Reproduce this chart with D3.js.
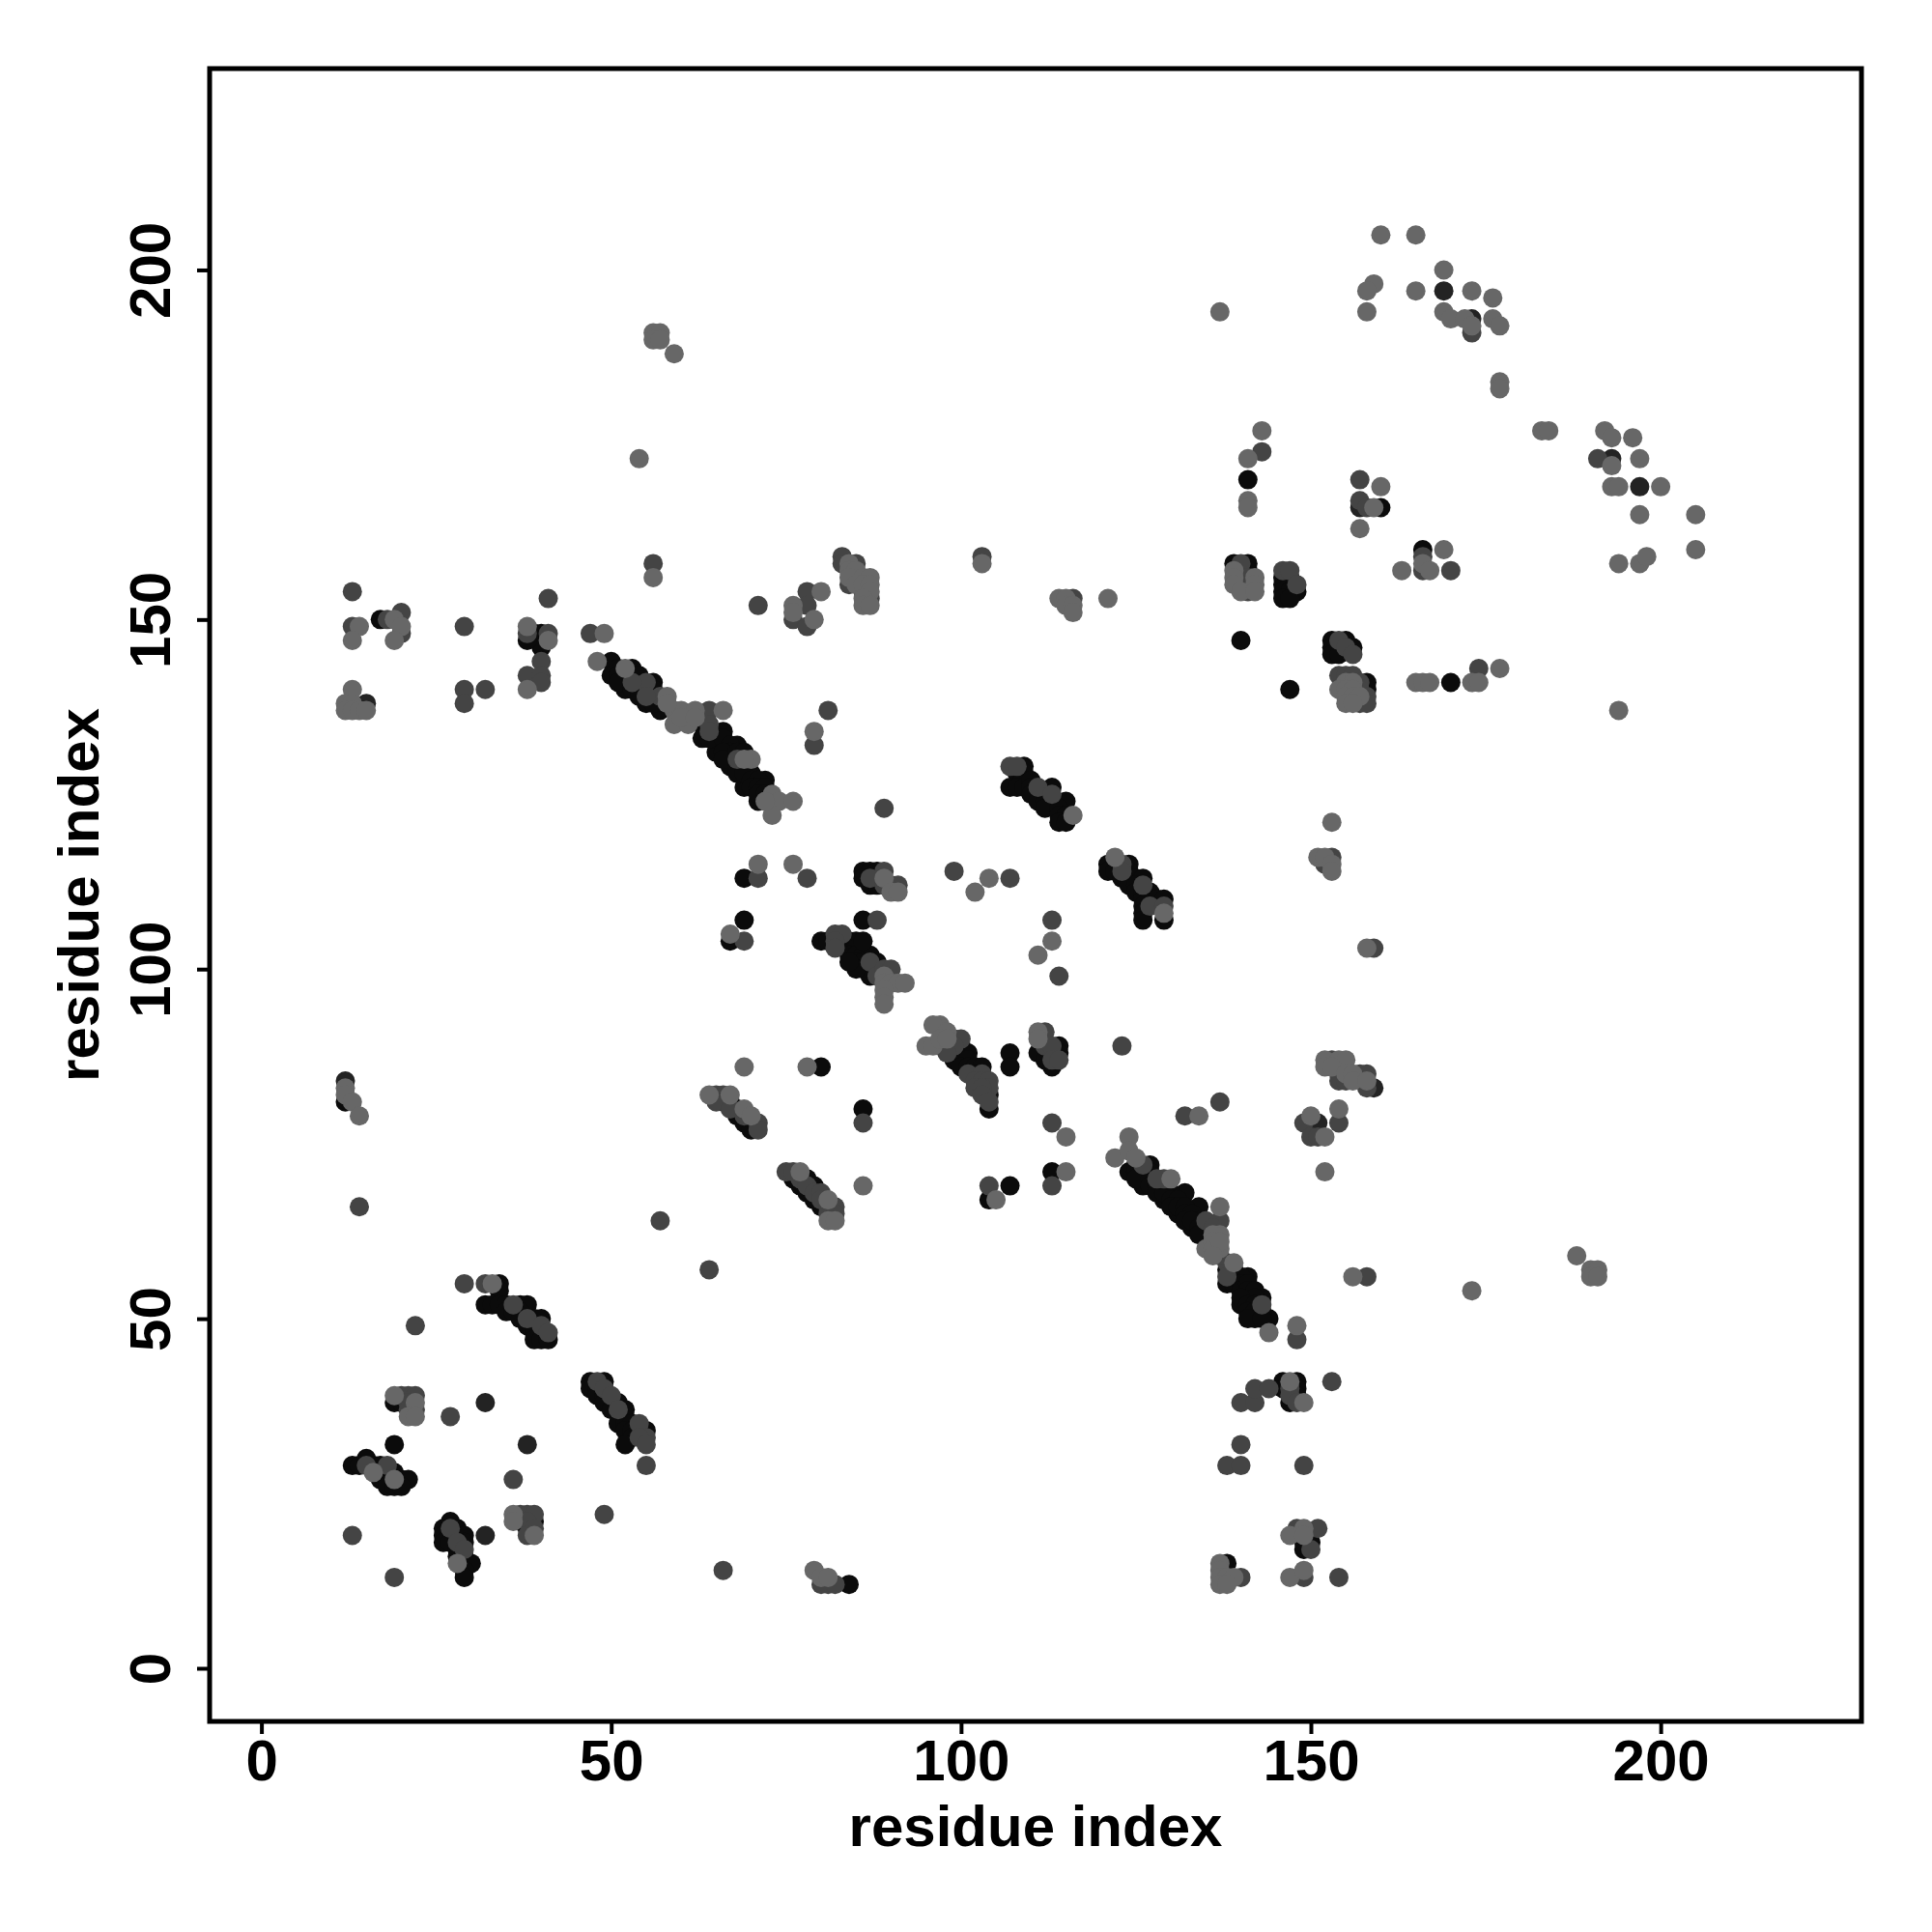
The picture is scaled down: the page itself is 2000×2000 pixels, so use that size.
<!DOCTYPE html>
<html><head><meta charset="utf-8">
<script src="https://cdn.jsdelivr.net/npm/d3@7"></script>
<style>body{margin:0;background:#fff}</style>
</head><body><svg id="chart" width="2000" height="2000"></svg>
<script>
const xTicks = [0, 50, 100, 150, 200];
const yTicks = [0, 50, 100, 150, 200];
const xTitle = "residue index";
const yTitle = "residue index";

// contacts [i, j], grouped by intensity level (0 = strongest / darkest)
const contactsLevel0 = [
[17,150],[39,148],[40,148],[40,146],[38,147],
[50,144],[50,142],[53,143],[52,140],[56,141],[55,138],[57,137],[63,135],[63,133],[66,134],[68,132],[65,131],[67,129],[69,126],[72,127],[71,124],[51,143],[51,142],[51,141],[53,142],[54,142],[54,140],[53,140],[54,139],[56,140],[56,138],[65,133],[64,133],[66,133],[67,132],[67,131],[66,131],[66,130],[68,131],[69,131],[68,129],[69,129],[70,128],[68,128],[69,128],[70,127],[71,127],[70,126],[71,126],[72,126],[71,125],[72,125],
[141,170],[140,147],[139,158],[141,158],[140,157],[141,157],[140,156],
[160,166],[166,160],[146,156],[147,156],[146,155],[147,155],[148,154],[146,154],[147,154],[146,153],[147,153],[153,147],[155,147],[153,146],[154,146],[156,146],[153,145],[154,145],[170,141],[158,141],[158,140],[147,140],
[69,113],[69,107],[67,104],[12,81],[66,81],[67,81],[68,80],[68,79],[70,78],[69,78],[70,77],
[109,129],[109,128],[108,128],[107,126],[108,126],[109,126],[110,127],[110,126],[110,125],[112,125],[113,126],[111,124],[112,124],[113,124],[115,124],[112,123],[114,123],[114,122],[115,122],[114,121],[115,121],
[121,115],[122,115],[124,115],[121,114],[122,114],[124,114],[125,113],[126,113],[123,113],[124,112],[125,112],[125,111],[126,111],[127,111],[126,110],[127,110],[128,110],[129,110],[126,109],[126,108],[126,107],[129,107],
[86,114],[87,114],[88,114],[86,113],[88,113],[87,112],[88,112],[86,107],
[80,104],[81,104],[83,104],[84,104],[84,103],[85,104],[85,103],[84,102],[85,102],[86,102],[87,102],[85,101],[86,101],[86,100],[87,100],[88,101],[88,100],[87,99],[86,104],[85,100],[84,101],
[100,89],[101,88],[99,88],[99,87],[100,87],[101,87],[100,86],[101,86],[102,86],[103,86],[102,85],[104,82],[104,80],
[107,88],[107,86],[111,88],[114,89],[114,88],[112,87],[113,86],[80,86],[86,80],
[34,55],[34,54],[32,52],[33,52],[34,52],[35,52],[37,52],[38,52],[35,51],[36,51],[37,51],[37,50],[39,50],[40,50],[38,49],[39,49],[39,48],[40,48],[39,47],[40,47],[41,47],
[19,38],[20,38],
[47,41],[49,41],[47,40],[48,40],[48,39],[49,39],[50,38],[51,38],[49,38],[50,37],[52,37],[52,36],[51,35],[52,35],[53,35],[52,34],[53,34],[55,34],[53,33],[52,32],
[19,32],
[13,29],[14,29],[15,30],[16,29],[17,29],[17,28],[18,28],[17,27],[18,27],[19,28],[20,27],[21,27],[18,26],[19,26],[20,26],
[37,21],[39,21],[38,20],
[27,21],[28,20],[26,20],[28,19],[29,19],[26,19],[27,19],[26,18],[27,18],[29,18],[28,17],[28,16],[29,16],[29,15],[30,15],[29,14],[29,13],
[76,70],[78,70],[77,69],[79,69],[78,68],[79,67],[80,66],[107,69],[104,67],[113,71],[138,15],[84,12],
[127,72],[124,71],[126,69],[129,67],[132,68],[131,65],[134,66],[133,63],[135,62],[141,56],[138,55],[140,52],[143,53],[142,50],[144,50],[125,72],[125,71],[126,71],[127,71],[125,70],[127,70],[127,69],[128,69],[128,68],[130,68],[129,68],[130,67],[131,67],[130,66],[131,66],[132,66],[132,65],[133,65],[132,64],[134,64],[133,64],[134,63],[134,62],[138,57],[139,57],[139,56],[140,56],[139,55],[140,55],[140,54],[141,55],[141,54],[141,53],[142,54],[142,53],[140,53],[141,52],[142,52],[141,51],[142,51],[143,51],[141,50],[143,50],
[146,41],[148,41],[146,40],[148,40],[148,39],[147,38],[149,18],[150,18],[149,17]
];

const contactsLevel1 = [
[15,138],[12,84],[169,197],[173,193],[193,173],[197,169],[157,166],[159,83],[151,78],[32,38],[38,32],[32,19]
];

const contactsLevel2 = [
[56,158],[13,154],[41,153],[71,152],[29,149],[13,149],[18,150],[20,151],[20,148],[38,148],[41,148],[40,144],[38,142],[40,142],[47,148],
[55,141],[57,139],[64,137],[64,135],[53,141],[55,139],[64,134],[68,130],
[143,174],[140,158],[141,156],[140,155],[141,154],[83,159],[83,158],[85,158],[85,156],[84,155],[86,154],[87,153],[78,154],[78,152],[76,150],[78,149],[103,159],[116,153],
[173,191],[191,173],[157,170],[157,167],[158,166],[166,159],[166,157],[170,157],[146,157],[147,157],[148,155],[154,147],[155,146],[156,145],[174,143],[154,142],[155,142],[156,142],[157,141],[157,140],[158,139],[157,138],[158,138],
[29,140],[29,138],[32,140],[40,141],[71,113],[69,104],[65,82],[66,82],[65,81],[67,80],[69,79],[71,78],[71,77],
[81,137],[79,132],[89,123],[107,129],[108,129],[111,126],[113,125],[123,115],[123,114],[126,112],[127,109],[129,109],[89,114],[87,113],[90,112],[91,112],[89,112],[99,114],[107,113],[78,113],[88,107],[113,107],[114,99],[82,105],[83,105],[82,104],[82,103],[87,101],[88,99],[89,100],[90,100],[97,89],[99,90],[100,90],[99,89],[98,88],[101,85],[103,85],[102,84],[103,84],[104,84],[104,83],[102,83],[103,83],[103,82],[104,81],[112,91],[112,89],[113,89],[113,87],[114,87],[123,89],[86,78],[113,78],[132,79],[137,81],
[153,116],[152,115],[159,103],[153,87],[154,85],[157,85],[158,85],[154,84],[155,84],[158,83],[149,78],[154,78],[150,76],[151,76],
[14,66],[57,64],[64,57],[29,55],[32,55],[36,52],[38,50],[40,49],[41,48],[22,49],[20,39],[21,39],[22,39],[21,38],[21,37],[22,37],[27,36],[48,41],[49,40],[50,39],[51,37],[54,35],[55,33],[54,33],[55,32],[55,29],[15,29],[18,29],[36,27],[37,22],[38,22],[39,22],[38,21],[39,20],[38,19],[49,22],[27,20],[28,18],[29,17],[13,19],[19,13],[66,14],
[75,71],[76,71],[77,70],[78,69],[79,68],[80,68],[80,67],[81,66],[82,66],[81,65],[82,65],[104,69],[113,69],[140,32],[138,29],[140,29],[140,38],[142,38],[142,40],[144,40],[140,13],[80,12],[81,12],[82,12],
[129,70],[135,64],[137,64],[138,58],[148,47],[126,72],[128,70],[136,63],[137,59],[138,56],[143,52],
[158,56],[147,40],[147,39],[148,38],[153,41],[149,29],[148,20],[151,20],[150,17],[149,13],[154,13]
];

const contactsLevel3 = [
[56,191],[57,191],[56,190],[57,190],[59,188],[54,173],[56,156],[14,149],[13,147],[19,150],[20,149],[19,147],[38,149],[41,147],[49,148],[48,144],
[52,143],[58,139],[59,137],[60,137],[62,137],[66,137],[59,135],[61,135],[70,130],[69,130],[73,125],[74,124],[76,124],[73,122],[58,138],[60,136],[62,136],[72,124],
[137,194],[141,173],[143,177],[141,167],[141,166],[139,157],[139,156],[142,156],[139,155],[142,155],[140,154],[142,154],[84,158],[84,157],[85,157],[84,156],[86,156],[87,156],[85,155],[86,155],[87,155],[87,154],[86,153],[86,152],[87,152],[80,154],[76,152],[76,151],[79,150],[103,158],[114,153],[115,153],[115,152],[116,152],[116,151],[121,153],
[160,205],[165,205],[169,200],[159,198],[158,197],[165,197],[173,197],[176,196],[158,194],[169,194],[170,193],[172,193],[173,192],[176,193],[177,192],[177,184],[177,183],[183,177],[184,177],[192,177],[193,176],[196,176],[193,172],[197,173],[193,169],[194,169],[200,169],[197,165],[205,165],[205,160],[194,158],[197,158],[198,159],[160,169],[159,166],[157,163],[169,160],[163,157],[166,158],[167,157],[177,143],[165,141],[166,141],[167,141],[173,141],[174,141],[155,141],[156,141],[154,140],[155,140],[156,140],[155,139],[156,139],[157,139],[155,138],[156,138],[194,137],
[13,140],[12,138],[13,138],[12,137],[13,137],[14,137],[15,137],[38,140],[71,115],[76,115],[67,105],[12,83],[12,82],[13,81],[14,79],[69,86],[64,82],[67,82],[69,80],[70,79],
[79,134],[116,122],[122,116],[129,108],[89,113],[90,111],[91,111],[104,113],[102,111],[113,104],[111,102],[89,99],[89,98],[90,98],[91,98],[92,98],[89,97],[89,96],[89,95],[97,92],[96,92],[98,91],[95,89],[96,89],[97,90],[98,90],[111,91],[111,90],[78,86],[115,76],[124,76],[134,79],
[153,121],[151,116],[152,116],[153,115],[153,114],[158,103],[152,87],[154,87],[155,87],[152,86],[153,86],[155,85],[156,85],[156,84],[158,84],[154,80],[150,79],[152,76],[152,71],
[33,55],[19,39],[22,38],[21,36],[22,36],[16,28],[19,27],[36,22],[36,21],[39,19],[28,15],
[77,71],[81,67],[81,64],[82,64],[86,69],[105,67],[115,71],[137,15],[137,14],[137,13],[138,13],[137,12],[139,13],[138,12],[79,14],[80,13],[81,13],
[122,73],[124,74],[125,73],[130,70],[137,66],[137,62],[135,60],[137,60],[139,58],[144,48],[148,49],[136,62],[136,61],[136,60],[137,61],[136,59],
[156,56],[173,54],[188,59],[190,57],[191,57],[190,56],[191,56],[147,41],[149,38],[147,19],[149,20],[149,19],[147,13],[149,14]
];

const levelColors = ["#0b0b0b", "#232323", "#444444", "#676767"];

const svg = d3.select("#chart");
const W = 2000, H = 2000;
const plot = {left: 217, top: 71, right: 1927, bottom: 1782};
const FONT = "'Liberation Sans', Arial, Helvetica, sans-serif";

const x = d3.scaleLinear().domain([-7.4, 228.7]).range([plot.left, plot.right]);
const y = d3.scaleLinear().domain([-7.6, 228.8]).range([plot.bottom, plot.top]);

svg.append("rect").attr("width", W).attr("height", H).attr("fill", "#fff");

const layers = [contactsLevel0, contactsLevel1, contactsLevel2, contactsLevel3];
layers.forEach((pts, i) => {
  svg.append("g").selectAll("circle").data(pts).join("circle")
    .attr("cx", d => x(d[0])).attr("cy", d => y(d[1]))
    .attr("r", 10).attr("fill", levelColors[i]);
});

svg.append("rect")
  .attr("x", plot.left).attr("y", plot.top)
  .attr("width", plot.right - plot.left).attr("height", plot.bottom - plot.top)
  .attr("fill", "none").attr("stroke", "#000").attr("stroke-width", 5);

const gx = svg.append("g").attr("transform", `translate(0,${plot.bottom})`)
  .call(d3.axisBottom(x).tickValues(xTicks).tickSize(13).tickPadding(5).tickFormat(d3.format("d")));
gx.select(".domain").remove();
gx.attr("font-size", 60).attr("font-family", FONT).attr("font-weight", "bold");
gx.selectAll(".tick line").attr("stroke", "#000").attr("stroke-width", 4);
gx.selectAll(".tick text").attr("fill", "#000");

const gy = svg.append("g").attr("transform", `translate(${plot.left},0)`)
  .call(d3.axisLeft(y).tickValues(yTicks).tickSize(13).tickFormat(d3.format("d")));
gy.select(".domain").remove();
gy.attr("font-size", 60).attr("font-family", FONT).attr("font-weight", "bold");
gy.selectAll(".tick line").attr("stroke", "#000").attr("stroke-width", 4);
gy.selectAll(".tick text").attr("fill", "#000")
  .attr("transform", "rotate(-90)").attr("x", 0).attr("y", -41).attr("dy", 0)
  .attr("text-anchor", "middle");

svg.append("text").attr("x", (plot.left + plot.right) / 2).attr("y", 1911)
  .attr("text-anchor", "middle").attr("font-size", 60).attr("font-weight", "bold")
  .attr("font-family", FONT).attr("fill", "#000").text(xTitle);

svg.append("text").attr("transform", `translate(102,${(plot.top + plot.bottom) / 2}) rotate(-90)`)
  .attr("text-anchor", "middle").attr("font-size", 60).attr("font-weight", "bold")
  .attr("font-family", FONT).attr("fill", "#000").text(yTitle);
</script>
</body></html>
